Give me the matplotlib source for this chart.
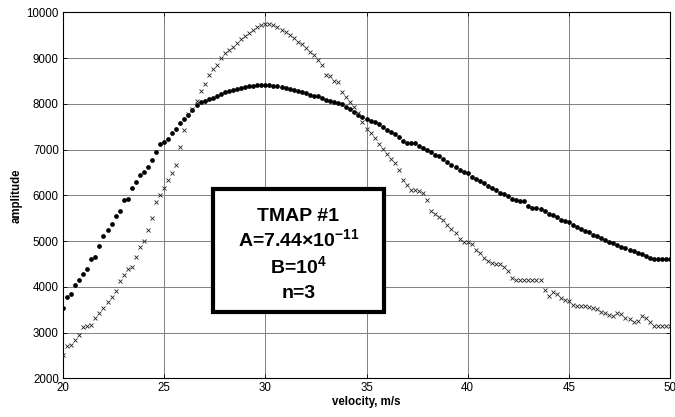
import numpy as np
import matplotlib
matplotlib.use("Agg")
import matplotlib.pyplot as plt
from matplotlib.patches import Rectangle

plt.rcParams['font.family'] = ['Liberation Sans', 'DejaVu Sans']
plt.rcParams['mathtext.fontset'] = 'custom'
plt.rcParams['mathtext.rm'] = 'Liberation Sans:bold'
plt.rcParams['mathtext.it'] = 'Liberation Sans:bold'
plt.rcParams['mathtext.bf'] = 'Liberation Sans:bold'

# velocity samples (m/s)
velocity = np.round(np.arange(20.0, 50.0001, 0.2), 1)

# series 1 (dots)
amp_dots = [
    3540, 3780, 3850, 4030, 4140, 4270, 4400, 4610, 4650, 4890,
    5100, 5250, 5370, 5540, 5660, 5900, 5930, 6150, 6290, 6440,
    6520, 6620, 6770, 6950, 7120, 7170, 7230, 7360, 7450, 7580,
    7660, 7750, 7870, 7970, 8030, 8060, 8100, 8130, 8170, 8220,
    8250, 8280, 8300, 8330, 8350, 8370, 8390, 8400, 8410, 8410,
    8410, 8410, 8400, 8390, 8370, 8350, 8320, 8300, 8280, 8260,
    8230, 8200, 8180, 8160, 8120, 8080, 8060, 8050, 8020, 8000,
    7930, 7880, 7830, 7760, 7710, 7660, 7630, 7600, 7560, 7500,
    7430, 7390, 7340, 7280, 7180, 7150, 7150, 7140, 7080, 7030,
    7000, 6950, 6890, 6850, 6800, 6720, 6670, 6620, 6560, 6510,
    6480, 6400, 6350, 6310, 6260, 6210, 6170, 6110, 6060, 6020,
    5980, 5920, 5890, 5880, 5870, 5760, 5730, 5720, 5700, 5650,
    5600, 5560, 5520, 5460, 5430, 5410, 5360, 5310, 5270, 5220,
    5200, 5130, 5100, 5060, 5030, 4990, 4950, 4910, 4880, 4850,
    4810, 4780, 4740, 4720, 4670, 4630, 4610, 4610, 4610, 4610,
    4610,
]

# series 2 (crosses)
amp_cross = [
    2510, 2710, 2720, 2830, 2950, 3130, 3140, 3170, 3310, 3420,
    3530, 3660, 3770, 3900, 4130, 4250, 4380, 4430, 4650, 4870,
    5000, 5240, 5500, 5850, 6000, 6160, 6330, 6490, 6670, 7060,
    7420, 7780, 7880, 8070, 8280, 8430, 8640, 8760, 8850, 9000,
    9100, 9170, 9240, 9330, 9410, 9480, 9540, 9610, 9680, 9720,
    9740, 9745, 9720, 9680, 9620, 9560, 9500, 9430, 9360, 9300,
    9230, 9140, 9060, 8950, 8850, 8620, 8610, 8490, 8480, 8250,
    8140, 8040, 7920, 7800, 7600, 7450, 7360, 7260, 7130, 7020,
    6900, 6800, 6700, 6550, 6330, 6220, 6120, 6110, 6100, 6040,
    5900, 5660, 5590, 5520, 5450, 5350, 5260, 5180, 5040, 4990,
    4980, 4940, 4800, 4740, 4620, 4570, 4520, 4500, 4490, 4440,
    4350, 4200, 4150, 4150, 4150, 4150, 4150, 4150, 4140, 3940,
    3800, 3880, 3850, 3760, 3720, 3700, 3610, 3580, 3580, 3570,
    3550, 3530, 3520, 3440, 3420, 3390, 3360, 3420, 3400, 3320,
    3300, 3240, 3250, 3360, 3310, 3220, 3150, 3150, 3150, 3150,
    3150,
]

x_ticks = [20, 25, 30, 35, 40, 45, 50]
y_ticks = [2000, 3000, 4000, 5000, 6000, 7000, 8000, 9000, 10000]

box_lines = ["TMAP #1", r"A=7.44×10$^{-11}$", r"B=10$^{4}$", "n=3"]

fig = plt.figure(figsize=(6.75, 4.17), dpi=100)
ax = fig.add_axes([63/675, 1 - 378.3/417, (670 - 63)/675, (378.3 - 12.3)/417])

ax.plot(velocity, amp_dots, linestyle='none', marker='o', ms=2.4,
        color='black', mec='black', zorder=3)
ax.plot(velocity, amp_cross, linestyle='none', marker='x', ms=2.4,
        mew=0.6, color='#202020', zorder=3)

ax.set_xlim(20, 50)
ax.set_ylim(2000, 10000)
ax.set_xticks(x_ticks)
ax.set_yticks(y_ticks)
ax.grid(True, color='#808080', linewidth=0.7, linestyle='-')
ax.set_axisbelow(True)
ax.tick_params(direction='in', length=3, width=0.6, top=True, right=True,
               labelsize=8.3, pad=3)
for s in ax.spines.values():
    s.set_linewidth(0.8)
    s.set_color('black')

ax.set_xlabel('velocity, m/s', fontsize=8.3, fontweight='bold', labelpad=1)
ax.set_ylabel('amplitude', fontsize=8.3, fontweight='bold', labelpad=3)

rect = Rectangle((27.40, 3449), 35.86 - 27.40, 6131 - 3449,
                 facecolor='white', edgecolor='black', linewidth=3.0,
                 zorder=5)
ax.add_patch(rect)
baselines = [5445, 4892, 4308, 3762]
for txt, yb in zip(box_lines, baselines):
    ax.text(31.63, yb, txt, ha='center', va='baseline', fontsize=14,
            fontweight='bold', zorder=6)

fig.savefig('out.png', dpi=100)
